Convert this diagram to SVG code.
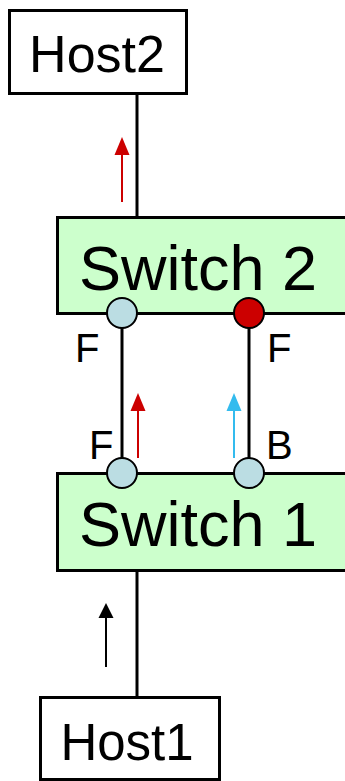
<svg xmlns="http://www.w3.org/2000/svg" width="345" height="781" viewBox="0 0 345 781">
<style>
.box{fill:#fff;stroke:#000;stroke-width:3}
.sw{fill:#ccffcc;stroke:#000;stroke-width:3}
.lbl{font-family:"Liberation Sans",Arial,sans-serif;fill:#000}
.wire{stroke:#000;stroke-width:3;fill:none}
.port{fill:#bbdde3;stroke:#000;stroke-width:2}
.portr{fill:#cc0000;stroke:#000;stroke-width:2}
</style>
<g id="connectors">
<line class="wire" x1="137" y1="93" x2="137" y2="217"/>
<line class="wire" x1="122" y1="313" x2="122" y2="473"/>
<line class="wire" x1="249" y1="313" x2="249" y2="473"/>
<line class="wire" x1="137" y1="571" x2="137" y2="697"/>
<line x1="122" y1="202" x2="122" y2="152" stroke="#cc0000" stroke-width="2"/>
<polygon points="122,137 114.5,155 129.5,155" fill="#cc0000"/>
<line x1="138" y1="458" x2="138" y2="408" stroke="#cc0000" stroke-width="2"/>
<polygon points="138,393 130.5,411 145.5,411" fill="#cc0000"/>
<line x1="234" y1="458" x2="234" y2="408" stroke="#33bbee" stroke-width="2"/>
<polygon points="234,393 226.5,411 241.5,411" fill="#33bbee"/>
<line x1="106" y1="667" x2="106" y2="617" stroke="#000" stroke-width="2"/>
<polygon points="106,603 98.5,618 113.5,618" fill="#000"/>
</g>
<g id="host2">
<rect class="box" x="9.5" y="10.5" width="177" height="83"/>
<text class="lbl" x="97" y="72" font-size="52" text-anchor="middle">Host2</text>
</g>
<g id="switch2">
<rect class="sw" x="57.5" y="217.5" width="290" height="96"/>
<text class="lbl" x="198" y="290" font-size="63" text-anchor="middle">Switch 2</text>
<circle class="port" cx="122" cy="313" r="15"/>
<circle class="portr" cx="249" cy="313" r="15"/>
<text class="lbl" x="75" y="362" font-size="40">F</text>
<text class="lbl" x="267" y="362" font-size="40">F</text>
</g>
<g id="switch1">
<rect class="sw" x="57.5" y="473.5" width="290" height="97"/>
<text class="lbl" x="198" y="546" font-size="63" text-anchor="middle">Switch 1</text>
<circle class="port" cx="122" cy="473" r="15"/>
<circle class="port" cx="249" cy="473" r="15"/>
<text class="lbl" x="89" y="459" font-size="40">F</text>
<text class="lbl" x="266" y="459" font-size="40">B</text>
</g>
<g id="host1">
<rect class="box" x="40.5" y="697.5" width="179" height="82"/>
<text class="lbl" x="127" y="760" font-size="51" text-anchor="middle">Host1</text>
</g>
</svg>
